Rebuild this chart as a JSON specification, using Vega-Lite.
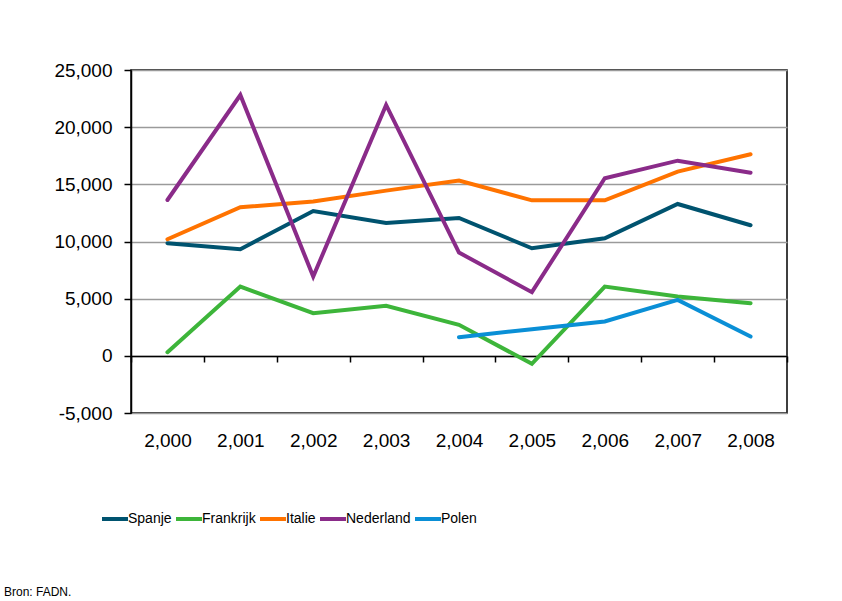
{
  "$schema": "https://vega.github.io/schema/vega-lite/v6.json",
  "width": 656,
  "height": 343,
  "autosize": {"type": "none"},
  "padding": {"left": 131, "top": 70, "right": 55, "bottom": 188},
  "background": "white",
  "title": {
    "text": "Bron: FADN.",
    "orient": "bottom",
    "anchor": "start",
    "frame": "group",
    "dx": -127,
    "offset": 60,
    "font": "Liberation Sans, Arial, sans-serif",
    "fontSize": 12,
    "fontWeight": "normal",
    "color": "#000000"
  },
  "data": {
    "values": [
      {"jaar": "2,000", "land": "Spanje", "waarde": 9850},
      {"jaar": "2,001", "land": "Spanje", "waarde": 9330},
      {"jaar": "2,002", "land": "Spanje", "waarde": 12670},
      {"jaar": "2,003", "land": "Spanje", "waarde": 11620},
      {"jaar": "2,004", "land": "Spanje", "waarde": 12060},
      {"jaar": "2,005", "land": "Spanje", "waarde": 9410},
      {"jaar": "2,006", "land": "Spanje", "waarde": 10280},
      {"jaar": "2,007", "land": "Spanje", "waarde": 13280},
      {"jaar": "2,008", "land": "Spanje", "waarde": 11420},
      {"jaar": "2,000", "land": "Frankrijk", "waarde": 320},
      {"jaar": "2,001", "land": "Frankrijk", "waarde": 6060},
      {"jaar": "2,002", "land": "Frankrijk", "waarde": 3730},
      {"jaar": "2,003", "land": "Frankrijk", "waarde": 4370},
      {"jaar": "2,004", "land": "Frankrijk", "waarde": 2710},
      {"jaar": "2,005", "land": "Frankrijk", "waarde": -700},
      {"jaar": "2,006", "land": "Frankrijk", "waarde": 6060},
      {"jaar": "2,007", "land": "Frankrijk", "waarde": 5190},
      {"jaar": "2,008", "land": "Frankrijk", "waarde": 4600},
      {"jaar": "2,000", "land": "Italie", "waarde": 10200},
      {"jaar": "2,001", "land": "Italie", "waarde": 13000},
      {"jaar": "2,002", "land": "Italie", "waarde": 13490},
      {"jaar": "2,003", "land": "Italie", "waarde": 14450},
      {"jaar": "2,004", "land": "Italie", "waarde": 15330},
      {"jaar": "2,005", "land": "Italie", "waarde": 13600},
      {"jaar": "2,006", "land": "Italie", "waarde": 13600},
      {"jaar": "2,007", "land": "Italie", "waarde": 16110},
      {"jaar": "2,008", "land": "Italie", "waarde": 17630},
      {"jaar": "2,000", "land": "Nederland", "waarde": 13630},
      {"jaar": "2,001", "land": "Nederland", "waarde": 22810},
      {"jaar": "2,002", "land": "Nederland", "waarde": 6930},
      {"jaar": "2,003", "land": "Nederland", "waarde": 21940},
      {"jaar": "2,004", "land": "Nederland", "waarde": 9030},
      {"jaar": "2,005", "land": "Nederland", "waarde": 5570},
      {"jaar": "2,006", "land": "Nederland", "waarde": 15530},
      {"jaar": "2,007", "land": "Nederland", "waarde": 17070},
      {"jaar": "2,008", "land": "Nederland", "waarde": 16020},
      {"jaar": "2,004", "land": "Polen", "waarde": 1630},
      {"jaar": "2,005", "land": "Polen", "waarde": 2330},
      {"jaar": "2,006", "land": "Polen", "waarde": 3000},
      {"jaar": "2,007", "land": "Polen", "waarde": 4890},
      {"jaar": "2,008", "land": "Polen", "waarde": 1690}
    ]
  },
  "mark": {"type": "line", "strokeWidth": 4, "strokeCap": "round"},
  "encoding": {
    "x": {
      "field": "jaar",
      "type": "ordinal",
      "sort": null,
      "scale": {"type": "band", "paddingInner": 0, "paddingOuter": 0},
      "axis": {
        "title": null,
        "orient": "bottom",
        "offset": -57,
        "domainColor": "#000000",
        "domainWidth": 1.5,
        "tickColor": "#000000",
        "tickWidth": 1.5,
        "tickSize": 6,
        "tickBand": "extent",
        "labelAngle": 0,
        "labelPadding": 69,
        "labelFont": "Liberation Sans, Arial, sans-serif",
        "labelFontSize": 19,
        "labelColor": "#000000",
        "grid": false
      }
    },
    "y": {
      "field": "waarde",
      "type": "quantitative",
      "scale": {"domain": [-5000, 25000], "nice": false, "zero": false},
      "axis": {
        "title": null,
        "values": [-5000, 0, 5000, 10000, 15000, 20000, 25000],
        "format": ",.0f",
        "labelExpr": "replace(datum.label, '−', '-')",
        "domainColor": "#000000",
        "domainWidth": 1.5,
        "tickColor": "#000000",
        "tickWidth": 1.5,
        "tickSize": 7,
        "labelPadding": 12,
        "labelFont": "Liberation Sans, Arial, sans-serif",
        "labelFontSize": 19,
        "labelColor": "#000000",
        "grid": true,
        "gridColor": "#9a9a9a",
        "gridWidth": 1.5
      }
    },
    "color": {
      "field": "land",
      "type": "nominal",
      "scale": {
        "domain": ["Spanje", "Frankrijk", "Italie", "Nederland", "Polen"],
        "range": ["#00536f", "#3db53a", "#ff7300", "#8a2b89", "#0a8fd6"]
      },
      "legend": {
        "title": null,
        "orient": "none",
        "legendX": -31,
        "legendY": 434,
        "direction": "horizontal",
        "columns": 5,
        "symbolType": "stroke",
        "symbolSize": 676,
        "symbolStrokeWidth": 4,
        "labelOffset": -2,
        "columnPadding": -4,
        "labelFont": "Liberation Sans, Arial, sans-serif",
        "labelFontSize": 14,
        "labelColor": "#000000"
      }
    }
  },
  "config": {
    "view": {"stroke": "#000000", "strokeWidth": 1.5}
  }
}
